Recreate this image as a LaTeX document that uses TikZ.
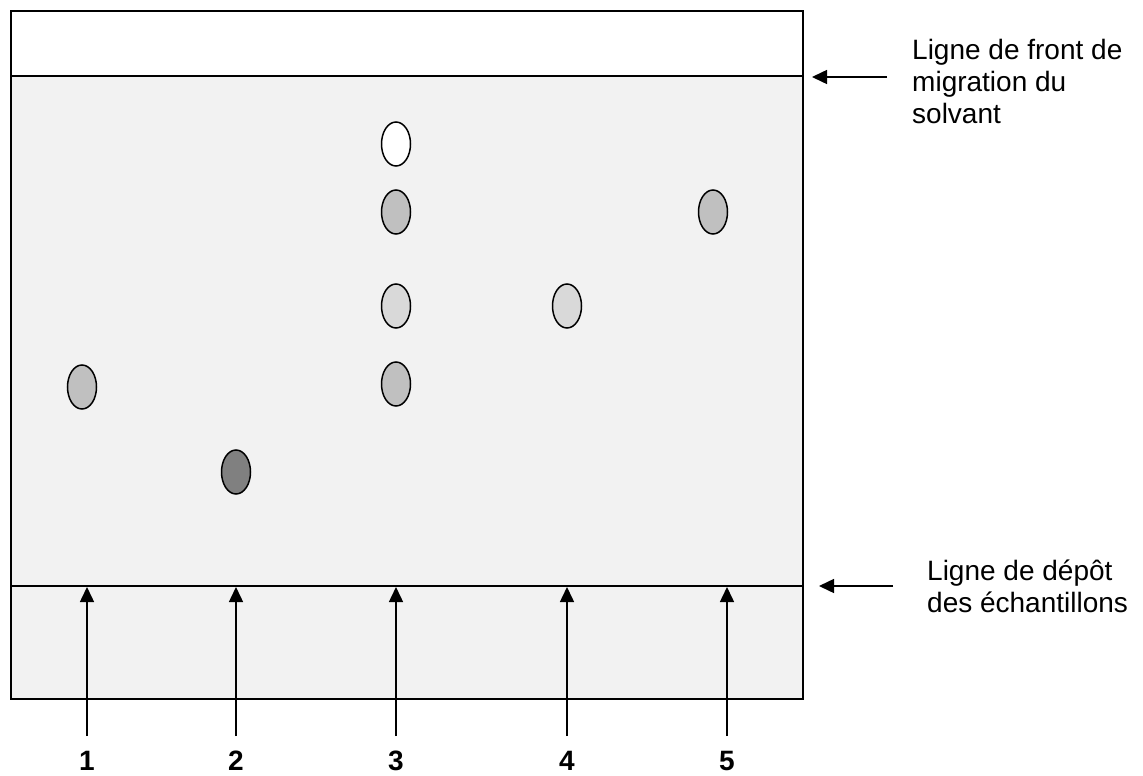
\documentclass[tikz,border=0pt]{standalone}
\usepackage{fontspec}
\setmainfont{Liberation Sans}
\usetikzlibrary{shapes.geometric,arrows.meta}
\definecolor{plate}{HTML}{F2F2F2}
\definecolor{spotlight}{HTML}{D9D9D9}
\definecolor{spotmid}{HTML}{C0C0C0}
\definecolor{spotdark}{HTML}{808080}
\tikzset{
  spot/.style={ellipse, draw=black, line width=1.5pt, minimum width=29pt, minimum height=44pt, inner sep=0pt},
  edge/.style={draw=black, line width=2pt},
  pointer/.style={draw=black, line width=1.5pt, -{Triangle[length=15pt,width=14pt]}},
  lanelabel/.style={font=\fontsize{28}{32}\selectfont\bfseries, inner sep=0pt, anchor=base},
  caption/.style={font=\fontsize{28}{32}\selectfont, align=left, inner sep=0pt, anchor=base west}
}
\begin{document}
\begin{tikzpicture}[x=1pt,y=-1pt]
  \useasboundingbox (0,0) rectangle (1143,776);
  % plate
  \fill[plate] (11,76) rectangle (803,699);
  \fill[white] (11,11) rectangle (803,76);
  \draw[edge] (11,11) rectangle (803,699);
  \draw[edge] (11,76.5) -- (803,76.5);
  \draw[edge] (11,586) -- (803,586);
  % spots
  \node[spot, fill=spotmid]   (s1)  at (82,387) {};
  \node[spot, fill=spotdark]  (s2)  at (236,472) {};
  \node[spot, fill=white]     (s3a) at (396,144) {};
  \node[spot, fill=spotmid]   (s3b) at (396,212) {};
  \node[spot, fill=spotlight] (s3c) at (396,306) {};
  \node[spot, fill=spotmid]   (s3d) at (396,384) {};
  \node[spot, fill=spotlight] (s4)  at (567,306) {};
  \node[spot, fill=spotmid]   (s5)  at (713,212) {};
  % lane arrows and numbers
  \foreach \i/\x in {1/87,2/236,3/396,4/567,5/727}{
    \coordinate (tail\i) at (\x,736);
    \coordinate (tip\i) at (\x,587);
    \draw[pointer] (tail\i) -- (tip\i);
    \node[lanelabel] (lab\i) at (\x,770) {\i};
  }
  % side captions (base anchor sits on the last line)
  \coordinate (fronttail) at (887,77);
  \coordinate (fronttip) at (812,77);
  \draw[pointer] (fronttail) -- (fronttip);
  \node[caption] (front) at (912,123) {Ligne de front de\\migration du\\solvant};
  \coordinate (depottail) at (893,586);
  \coordinate (depottip) at (819,586);
  \draw[pointer] (depottail) -- (depottip);
  \node[caption] (depot) at (927,612) {Ligne de dépôt\\des échantillons};
\end{tikzpicture}
\end{document}
